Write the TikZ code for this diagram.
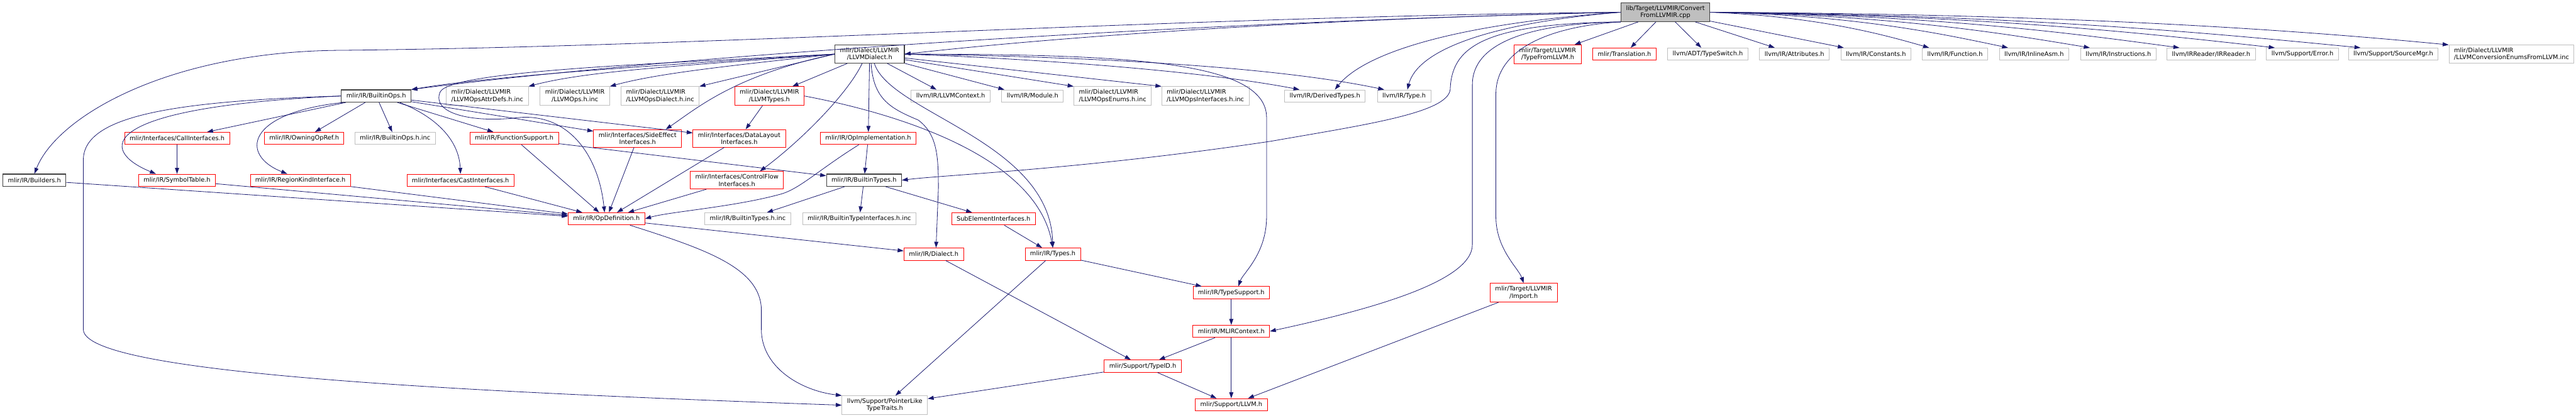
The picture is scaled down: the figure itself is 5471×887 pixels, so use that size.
\documentclass[tikz,border=0pt]{standalone}
\usepackage{fontspec}
\setmainfont{DejaVu Sans}
\usetikzlibrary{arrows.meta,calc}
\definecolor{edgec}{HTML}{191970}
\definecolor{grayb}{HTML}{BFBFBF}
\definecolor{darkb}{HTML}{404040}
\begin{document}
\begin{tikzpicture}[x=0.75pt,y=-0.75pt,
  box/.style={rectangle, fill=white, inner xsep=8pt, inner ysep=4.5pt, minimum height=19.5pt, font=\fontsize{9.8}{11.3}\selectfont, align=center},
  docb/.style={box, draw=darkb, line width=1.1pt},
  redb/.style={box, draw=red, line width=0.9pt},
  grayn/.style={box, draw=grayb, line width=0.9pt},
  rootb/.style={box, draw=darkb, fill=grayb, line width=1.1pt},
  lft/.style={align=left},
  dep/.style={draw=edgec, line width=0.8pt, -{Triangle[length=9.5pt,width=6.5pt]}}
]
\fill[white] (0,0) rectangle (5471,887);
\useasboundingbox (0,0) rectangle (5471,887);

% ---------- nodes ----------
\node[rootb] (root) at (3537,26) {lib/Target/LLVMIR/Convert\\FromLLVMIR.cpp};

\node[docb] (dialect) at (1847,115) {mlir/Dialect/LLVMIR\\/LLVMDialect.h};
\node[redb] (tfl) at (3287,115) {mlir/Target/LLVMIR\\/TypeFromLLVM.h};
\node[redb] (transl) at (3450,115) {mlir/Translation.h};
\node[grayn] (tswitch) at (3627,115) {llvm/ADT/TypeSwitch.h};
\node[grayn] (attrs) at (3811,115) {llvm/IR/Attributes.h};
\node[grayn] (consts) at (3984,115) {llvm/IR/Constants.h};
\node[grayn] (func) at (4152,115) {llvm/IR/Function.h};
\node[grayn] (inasm) at (4320,115) {llvm/IR/InlineAsm.h};
\node[grayn] (instr) at (4499,115) {llvm/IR/Instructions.h};
\node[grayn] (irread) at (4696,115) {llvm/IRReader/IRReader.h};
\node[grayn] (err) at (4890,115) {llvm/Support/Error.h};
\node[grayn] (srcmgr) at (5083,115) {llvm/Support/SourceMgr.h};
\node[grayn,lft] (convenum) at (5334,115) {mlir/Dialect/LLVMIR\\/LLVMConversionEnumsFromLLVM.inc};

\node[docb] (builtinops) at (799,204) {mlir/IR/BuiltinOps.h};
\node[grayn,lft] (attrdefs) at (1035,204) {mlir/Dialect/LLVMIR\\/LLVMOpsAttrDefs.h.inc};
\node[grayn] (opsinc) at (1221,204) {mlir/Dialect/LLVMIR\\/LLVMOps.h.inc};
\node[grayn,lft] (opsdial) at (1402,204) {mlir/Dialect/LLVMIR\\/LLVMOpsDialect.h.inc};
\node[redb] (llvmtypes) at (1634,204) {mlir/Dialect/LLVMIR\\/LLVMTypes.h};
\node[grayn] (llvmctx) at (2019,204) {llvm/IR/LLVMContext.h};
\node[grayn] (module) at (2193,204) {llvm/IR/Module.h};
\node[grayn,lft] (opsenums) at (2363,204) {mlir/Dialect/LLVMIR\\/LLVMOpsEnums.h.inc};
\node[grayn,lft] (opsifaces) at (2560,204) {mlir/Dialect/LLVMIR\\/LLVMOpsInterfaces.h.inc};
\node[grayn] (dtypes) at (2814,204) {llvm/IR/DerivedTypes.h};
\node[grayn] (irtype) at (2982,204) {llvm/IR/Type.h};

\node[redb] (callif) at (376,294) {mlir/Interfaces/CallInterfaces.h};
\node[redb] (owning) at (646,294) {mlir/IR/OwningOpRef.h};
\node[grayn] (btopsinc) at (839,294) {mlir/IR/BuiltinOps.h.inc};
\node[redb] (funcsup) at (1092,294) {mlir/IR/FunctionSupport.h};
\node[redb] (sideeff) at (1354,294) {mlir/Interfaces/SideEffect\\Interfaces.h};
\node[redb] (datalay) at (1570,294) {mlir/Interfaces/DataLayout\\Interfaces.h};
\node[redb] (opimpl) at (1844,294) {mlir/IR/OpImplementation.h};

\node[docb] (builders) at (73,383) {mlir/IR/Builders.h};
\node[redb] (symtab) at (376,383) {mlir/IR/SymbolTable.h};
\node[redb] (regkind) at (638,383) {mlir/IR/RegionKindInterface.h};
\node[redb] (castif) at (978,383) {mlir/Interfaces/CastInterfaces.h};
\node[redb] (ctrlflow) at (1565,383) {mlir/Interfaces/ControlFlow\\Interfaces.h};
\node[docb] (btypes) at (1835,383) {mlir/IR/BuiltinTypes.h};

\node[redb] (opdef) at (1288,465) {mlir/IR/OpDefinition.h};
\node[grayn] (btinc) at (1588,465) {mlir/IR/BuiltinTypes.h.inc};
\node[grayn] (btifinc) at (1825,465) {mlir/IR/BuiltinTypeInterfaces.h.inc};
\node[redb] (subelem) at (2110,465) {SubElementInterfaces.h};

\node[redb] (irdialect) at (1983,540) {mlir/IR/Dialect.h};
\node[redb] (irtypes) at (2236,540) {mlir/IR/Types.h};

\node[redb] (typesup) at (2615,622) {mlir/IR/TypeSupport.h};
\node[redb] (import) at (3236,622) {mlir/Target/LLVMIR\\/Import.h};
\node[redb] (mlirctx) at (2615,704) {mlir/IR/MLIRContext.h};
\node[redb] (typeid) at (2427,778) {mlir/Support/TypeID.h};
\node[redb] (llvmh) at (2615,860) {mlir/Support/LLVM.h};
\node[grayn] (ptrlike) at (1879,861) {llvm/Support/PointerLike\\TypeTraits.h};

% ---------- edges from root ----------
\draw[dep] (root.west) .. controls (2600,45) and (2100,95) .. (dialect.east);
\draw[dep] (root.west) .. controls (2600,45) and (1500,110) .. (builtinops.north east);
\draw[dep] (root.west) .. controls (2500,35) and (1500,100) .. (713,107) .. controls (350,112) and (120,250) .. (builders.north);
\draw[dep] (root.west) .. controls (3100,50) and (2900,110) .. ($(dtypes.north)+(21,0)$);
\draw[dep] (root.west) .. controls (3150,50) and (3010,110) .. ($(irtype.north)+(7,0)$);
\draw[dep] (root.south west) .. controls (3150,50) and (3083,100) .. (3080,190) .. controls (3075,240) and (2900,265) .. (2700,300) .. controls (2300,360) and (2000,372) .. (btypes.east);
\draw[dep] (root.south west) .. controls (3250,50) and (3127,90) .. (3127,180) -- (3127,520) .. controls (3127,600) and (2900,660) .. (mlirctx.east);
\draw[dep] (root.south west) .. controls (3300,55) and (3177,100) .. (3177,200) -- (3177,460) .. controls (3177,530) and (3225,570) .. (import.north);
\draw[dep] (root) -- (tfl);
\draw[dep] (root) -- (transl);
\draw[dep] (root) -- (tswitch);
\draw[dep] (root) -- (attrs);
\draw[dep] (root) -- (consts);
\draw[dep] (root.east) .. controls (3864,35) and (4005,75) .. ($(func.north west)+(15,0)$);
\draw[dep] (root.east) .. controls (3948,32) and (4138,75) .. ($(inasm.north west)+(19,0)$);
\draw[dep] (root.east) .. controls (4035,32) and (4277,75) .. ($(instr.north west)+(20,0)$);
\draw[dep] (root.east) .. controls (4130,32) and (4430,75) .. ($(irread.north west)+(27,0)$);
\draw[dep] (root.east) .. controls (4231,32) and (4592,75) .. ($(err.north west)+(18,0)$);
\draw[dep] (root.east) .. controls (4323,32) and (4738,75) .. ($(srcmgr.north west)+(26,0)$);
\draw[dep] (root.east) .. controls (4416,30) and (4888,65) .. (convenum.north west);

% ---------- edges from LLVMDialect.h ----------
\draw[dep] (dialect.west) .. controls (1450,135) and (1050,160) .. (builtinops.north east);
\draw[dep] (dialect.west) .. controls (1450,140) and (1250,150) .. (attrdefs.north east);
\draw[dep] (dialect.west) .. controls (1550,140) and (1400,155) .. (opsinc.north east);
\draw[dep] (dialect.west) -- (opsdial.north east);
\draw[dep] (dialect) -- (llvmtypes);
\draw[dep] (dialect.west) .. controls (1560,160) and (1480,230) .. ($(sideeff.north)+(60,0)$);
\draw[dep] ($(dialect.south)+(-16,0)$) .. controls (1800,200) and (1700,300) .. ($(ctrlflow.north)+(49,0)$);
\draw[dep] (dialect) -- (opimpl);
\draw[dep] ($(dialect.south)+(3,0)$) .. controls (1855,210) and (1890,230) .. (1950,255) .. controls (1990,285) and (1993,330) .. (1993,400) -- ($(irdialect.north)+(5,0)$);
\draw[dep] ($(dialect.south)+(10,0)$) .. controls (1890,240) and (2230,300) .. (irtypes.north);
\draw[dep] (dialect) -- ($(llvmctx.north)+(-30,0)$);
\draw[dep] (dialect) -- ($(module.north west)+(6,0)$);
\draw[dep] (dialect) -- (opsenums.north west);
\draw[dep] (dialect) -- (opsifaces.north west);
\draw[dep] (dialect.east) .. controls (2200,125) and (2550,150) .. ($(dtypes.north west)+(32,0)$);
\draw[dep] (dialect.east) .. controls (2300,120) and (2700,140) .. ($(irtype.north west)+(15,0)$);
\draw[dep] (dialect.east) .. controls (2400,115) and (2690,130) .. (2690,250) -- (2690,460) .. controls (2690,540) and (2640,580) .. ($(typesup.north)+(15,0)$);
\draw[dep] (dialect.west) .. controls (1400,135) and (960,150) .. (935,195) .. controls (915,240) and (1000,262) .. (1100,250) .. controls (1200,240) and (1270,320) .. ($(opdef.north)+(-4,0)$);

% ---------- edges from BuiltinOps.h ----------
\draw[dep] (builtinops) -- (callif);
\draw[dep] (builtinops) -- (owning);
\draw[dep] (builtinops) -- (btopsinc);
\draw[dep] (builtinops) -- (funcsup);
\draw[dep] (builtinops) -- (sideeff);
\draw[dep] (builtinops) -- (datalay);
\draw[dep] ($(builtinops.south)+(50,0)$) .. controls (930,250) and (975,300) .. (castif.north);
\draw[dep] (builtinops.west) .. controls (200,228) and (210,320) .. ($(symtab.north)+(-45,0)$);
\draw[dep] ($(builtinops.south west)+(5,0)$) .. controls (520,240) and (510,330) .. ($(regkind.north)+(-28,0)$);
\draw[dep] (builtinops.west) .. controls (350,215) and (177,250) .. (177,340) -- (177,700) .. controls (177,790) and (900,830) .. (ptrlike.west);

% ---------- remaining edges ----------
\draw[dep] (callif) -- (symtab);
\draw[dep] (funcsup) -- (opdef);
\draw[dep] (funcsup) -- (btypes);
\draw[dep] (builders) -- (opdef);
\draw[dep] (symtab) -- (opdef);
\draw[dep] (regkind) -- (opdef);
\draw[dep] (castif) -- (opdef);
\draw[dep] (sideeff) -- (opdef);
\draw[dep] (datalay) -- (opdef);
\draw[dep] (ctrlflow) -- (opdef);
\draw[dep] ($(opimpl.south)+(-20,0)$) .. controls (1740,360) and (1700,400) .. (1660,412) .. controls (1560,440) and (1420,450) .. (opdef.east);
\draw[dep] (opimpl) -- (btypes);
\draw[dep] (llvmtypes) -- (datalay);
\draw[dep] (llvmtypes.east) .. controls (1900,240) and (2200,330) .. (irtypes.north);
\draw[dep] (btypes) -- (btinc);
\draw[dep] (btypes) -- (btifinc);
\draw[dep] (btypes) -- (subelem);
\draw[dep] (subelem) -- (irtypes);
\draw[dep] (opdef) -- (irdialect);
\draw[dep] ($(opdef.south)+(50,0)$) .. controls (1500,530) and (1617,570) .. (1617,660) -- (1617,700) .. controls (1617,780) and (1700,830) .. (ptrlike.north west);
\draw[dep] (irdialect) -- (typeid);
\draw[dep] (irtypes) -- (typesup);
\draw[dep] (irtypes) -- (ptrlike);
\draw[dep] (typesup) -- (mlirctx);
\draw[dep] (mlirctx) -- (typeid);
\draw[dep] (mlirctx) -- (llvmh);
\draw[dep] (typeid) -- (llvmh);
\draw[dep] (typeid) -- (ptrlike);
\draw[dep] (import) -- (llvmh);
\end{tikzpicture}
\end{document}
